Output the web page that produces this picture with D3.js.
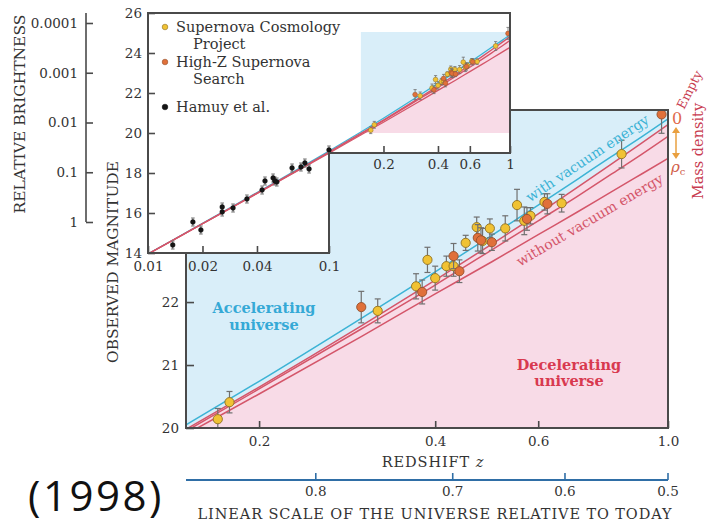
<!DOCTYPE html>
<html>
<head>
<meta charset="utf-8">
<script src="https://cdn.jsdelivr.net/npm/d3@7"></script>
<style>
  html, body { margin: 0; padding: 0; background: #fff; }
  svg { display: block; }
</style>
</head>
<body>
<svg id="chart" width="709" height="523"></svg>
<script>
// ---- Model curves: apparent magnitude versus redshift ----
const modelZ = [0.01, 0.015, 0.02, 0.03, 0.05, 0.07, 0.1, 0.15, 0.2, 0.3, 0.4, 0.5, 0.6, 0.7, 0.8, 0.9, 1.0];
const magVacuum     = [13.96, 14.85, 15.48, 16.38, 17.52, 18.28, 19.10, 20.05, 20.74, 21.75, 22.48, 23.06, 23.54, 23.95, 24.31, 24.62, 24.91];
const magEmpty      = [13.95, 14.84, 15.47, 16.36, 17.49, 18.24, 19.05, 19.98, 20.65, 21.63, 22.35, 22.92, 23.40, 23.82, 24.19, 24.52, 24.82];
const magLowDensity = [13.95, 14.83, 15.46, 16.35, 17.48, 18.23, 19.03, 19.95, 20.62, 21.58, 22.27, 22.83, 23.29, 23.68, 24.03, 24.34, 24.63];
const magCritical   = [13.95, 14.83, 15.46, 16.34, 17.46, 18.20, 18.99, 19.90, 20.54, 21.46, 22.13, 22.64, 23.07, 23.43, 23.75, 24.03, 24.28];

// ---- Supernova Cosmology Project ----
const scpZ   = [0.170, 0.178, 0.319, 0.371, 0.388, 0.400, 0.418, 0.430, 0.451, 0.471, 0.482, 0.496, 0.527, 0.552, 0.568, 0.582, 0.615, 0.658, 0.833];
const scpMag = [20.14, 20.41, 21.86, 22.25, 22.67, 22.38, 22.57, 22.57, 22.94, 23.19, 22.97, 23.17, 23.17, 23.54, 23.29, 23.37, 23.59, 23.57, 24.35];
const scpErr = [0.17, 0.17, 0.19, 0.20, 0.20, 0.19, 0.16, 0.16, 0.12, 0.16, 0.20, 0.15, 0.20, 0.25, 0.22, 0.13, 0.13, 0.14, 0.22];

// ---- High-Z Supernova Search ----
const hzZ   = [0.299, 0.380, 0.430, 0.440, 0.473, 0.479, 0.500, 0.574, 0.622, 0.975];
const hzMag = [21.92, 22.16, 22.73, 22.49, 23.02, 22.98, 22.95, 23.32, 23.56, 24.98];
const hzErr = [0.25, 0.19, 0.20, 0.18, 0.21, 0.20, 0.13, 0.18, 0.16, 0.30];

// ---- Hamuy et al. (nearby supernovae) ----
const hamuyZ   = [0.0137, 0.0177, 0.0196, 0.0257, 0.0257, 0.0295, 0.0352, 0.0427, 0.0443, 0.0491, 0.0502, 0.0515, 0.0625, 0.070, 0.0736, 0.0776, 0.100];
const hamuyMag = [14.40, 15.55, 15.15, 16.30, 16.05, 16.25, 16.70, 17.15, 17.60, 17.75, 17.60, 17.55, 18.25, 18.30, 18.50, 18.20, 19.15];
const hamuyErr = [0.2, 0.2, 0.2, 0.2, 0.2, 0.2, 0.2, 0.2, 0.2, 0.2, 0.2, 0.2, 0.2, 0.2, 0.2, 0.2, 0.2];

// ---- Axis ticks ----
const mainZTicks = [0.2, 0.4, 0.6, 1.0];
const mainMagTicks = [20, 21, 22];
const insetZTicksLow = [0.01, 0.02, 0.04, 0.1];
const insetZTicksHigh = [0.2, 0.4, 0.6, 1];
const insetMagTicks = [14, 16, 18, 20, 22, 24, 26];
const brightnessTicks = [0.0001, 0.001, 0.01, 0.1, 1];
const brightnessLabels = ["0.0001", "0.001", "0.01", "0.1", "1"];
const scaleFactorTicks = [0.8, 0.7, 0.6, 0.5];

// ---- Ranges of the two panels ----
const mainZDomain = [0.15, 1];
const mainMagDomain = [20, 25.05];
const insetZDomain = [0.01, 1];
const insetMagDomain = [14, 26];
const insetCutZ = 0.1, insetCutMag = 19;

// ---- Styling ----
const serif = '"DejaVu Serif", "Liberation Serif", serif';
const C = {
  sky: "#d9eef9", pink: "#f8dbe7", frame: "#4a4a4a", text: "#333",
  cyan: "#3cb3d5", red: "#d4566a", errbar: "#707070",
  scp: "#f0c234", scpStroke: "#8f6f22", hz: "#e0703a", hzStroke: "#94502c",
  hamuy: "#151515", accel: "#35a9d6", decel: "#d8394f", axisBlue: "#2f6ea6"
};

const svg = d3.select("#chart");
const defs = svg.append("defs");

// ---- Scales ----
const xMain = d3.scaleLog().domain(mainZDomain).range([186, 668]);
const yMain = d3.scaleLinear().domain(mainMagDomain).range([428, 110]);
const xIn = d3.scaleLog().domain(insetZDomain).range([148, 510]);
const yIn = d3.scaleLinear().domain(insetMagDomain).range([253, 13]);
const yBright = d3.scaleLog().domain([1, 0.0001]).range([222, 23]);

const rows = m => modelZ.map((z, i) => ({ z, m: m[i] }));
function magAt(mArr, z) {
  const lz = Math.log10(z);
  for (let i = 0; i < modelZ.length - 1; i++) {
    const a = Math.log10(modelZ[i]), b = Math.log10(modelZ[i + 1]);
    if (lz >= a && lz <= b) return mArr[i] + (mArr[i + 1] - mArr[i]) * (lz - a) / (b - a);
  }
  return mArr[mArr.length - 1];
}

// clip regions
const mx0 = xMain(mainZDomain[0]), mx1 = xMain(mainZDomain[1]);
const my0 = yMain(mainMagDomain[1]), my1 = yMain(mainMagDomain[0]);
defs.append("clipPath").attr("id", "clipMain").append("rect")
  .attr("x", mx0).attr("y", my0).attr("width", mx1 - mx0).attr("height", my1 - my0);

const insetPoly = [
  [xIn(insetZDomain[0]), yIn(insetMagDomain[1])],
  [xIn(insetZDomain[1]), yIn(insetMagDomain[1])],
  [xIn(insetZDomain[1]), yIn(insetCutMag)],
  [xIn(insetCutZ), yIn(insetCutMag)],
  [xIn(insetCutZ), yIn(insetMagDomain[0])],
  [xIn(insetZDomain[0]), yIn(insetMagDomain[0])]
];
defs.append("clipPath").attr("id", "clipInset").append("polygon")
  .attr("points", insetPoly.map(p => p.join(",")).join(" "));

const bx0 = xIn(mainZDomain[0]), bx1 = xIn(mainZDomain[1]);
const by0 = yIn(mainMagDomain[1]), by1 = yIn(mainMagDomain[0]);
defs.append("clipPath").attr("id", "clipInsetBox").append("rect")
  .attr("x", bx0).attr("y", by0).attr("width", bx1 - bx0).attr("height", by1 - by0);

// ---- Shared drawing helpers ----
function drawCurves(g, x, y, width) {
  const line = d3.line().x(d => x(d.z)).y(d => y(d.m)).curve(d3.curveMonotoneX);
  g.append("path").attr("d", line(rows(magVacuum))).attr("fill", "none").attr("stroke", C.cyan).attr("stroke-width", width);
  [magEmpty, magLowDensity, magCritical].forEach(m => {
    g.append("path").attr("d", line(rows(m))).attr("fill", "none").attr("stroke", C.red).attr("stroke-width", width);
  });
}
function drawPink(g, x, y, floorMag) {
  const area = d3.area().x(d => x(d.z)).y0(y(floorMag)).y1(d => y(d.m)).curve(d3.curveMonotoneX);
  g.append("path").attr("d", area(rows(magEmpty))).attr("fill", C.pink);
}
function drawPoints(g, x, y, zs, ms, es, fill, stroke, r, cap, barW) {
  const pts = zs.map((z, i) => ({ z, m: ms[i], e: es[i] }));
  const eb = g.append("g").attr("stroke", C.errbar).attr("stroke-width", barW);
  pts.forEach(d => {
    const cx = x(d.z), t = y(d.m + d.e), b = y(d.m - d.e);
    eb.append("line").attr("x1", cx).attr("x2", cx).attr("y1", t).attr("y2", b);
    eb.append("line").attr("x1", cx - cap).attr("x2", cx + cap).attr("y1", t).attr("y2", t);
    eb.append("line").attr("x1", cx - cap).attr("x2", cx + cap).attr("y1", b).attr("y2", b);
  });
  g.append("g").selectAll("circle").data(pts).join("circle")
    .attr("cx", d => x(d.z)).attr("cy", d => y(d.m)).attr("r", r)
    .attr("fill", fill).attr("stroke", stroke).attr("stroke-width", r > 3 ? 0.9 : 0.5);
}
function styleAxis(g, size) {
  g.select(".domain").remove();
  g.selectAll(".tick line").attr("stroke", C.frame).attr("stroke-width", 1.6);
  g.selectAll(".tick text").attr("font-family", serif).attr("font-size", size).attr("fill", C.text);
}

// ================= Main panel =================
const main = svg.append("g");
main.append("rect").attr("x", mx0).attr("y", my0).attr("width", mx1 - mx0).attr("height", my1 - my0).attr("fill", C.sky);
const mainClip = main.append("g").attr("clip-path", "url(#clipMain)");
drawPink(mainClip, xMain, yMain, 18);
drawCurves(mainClip, xMain, yMain, 1.5);
drawPoints(mainClip, xMain, yMain, scpZ, scpMag, scpErr, C.scp, C.scpStroke, 4.6, 3, 1.2);
drawPoints(mainClip, xMain, yMain, hzZ, hzMag, hzErr, C.hz, C.hzStroke, 4.6, 3, 1.2);

// region names
main.append("text").attr("x", 264).attr("y", 313).attr("text-anchor", "middle")
  .attr("font-family", serif).attr("font-weight", "bold").attr("font-size", 14.5).attr("fill", C.accel)
  .selectAll("tspan").data(["Accelerating", "universe"]).join("tspan")
  .attr("x", 264).attr("dy", (d, i) => i ? 17 : 0).text(d => d);
main.append("text").attr("x", 569).attr("y", 370).attr("text-anchor", "middle")
  .attr("font-family", serif).attr("font-weight", "bold").attr("font-size", 14.5).attr("fill", C.decel)
  .selectAll("tspan").data(["Decelerating", "universe"]).join("tspan")
  .attr("x", 569).attr("dy", (d, i) => i ? 16 : 0).text(d => d);

// curve labels laid along the lines
function labelAlong(mArr, xc, offset, txt, color, size) {
  const zc = xMain.invert(xc);
  const yc = yMain(magAt(mArr, zc));
  const y1 = yMain(magAt(mArr, xMain.invert(xc - 15))), y2 = yMain(magAt(mArr, xMain.invert(xc + 15)));
  const ang = Math.atan2(y2 - y1, 30);
  const px = xc + offset * Math.sin(ang), py = yc - offset * Math.cos(ang);
  main.append("text").attr("transform", `translate(${px},${py}) rotate(${ang * 180 / Math.PI})`)
    .attr("text-anchor", "middle").attr("dy", "0.35em")
    .attr("font-family", serif).attr("font-size", size).attr("fill", color).text(txt);
}
labelAlong(magVacuum, 594, 12, "with vacuum energy", C.cyan, 14);
labelAlong(magCritical, 583, -13, "without vacuum energy", C.red, 14);

// frame
main.append("rect").attr("x", mx0).attr("y", my0).attr("width", mx1 - mx0).attr("height", my1 - my0)
  .attr("fill", "none").attr("stroke", C.frame).attr("stroke-width", 2);

// axes of the main panel
main.append("g").attr("transform", `translate(0,${my1})`)
  .call(d3.axisBottom(xMain).tickValues(mainZTicks).tickFormat(d3.format(".1f")).tickSize(-7).tickPadding(8))
  .call(g => styleAxis(g, 13.5));
main.append("g").attr("transform", `translate(${mx0},0)`)
  .call(d3.axisLeft(yMain).tickValues(mainMagTicks).tickFormat(d3.format("d")).tickSize(-8).tickPadding(7))
  .call(g => styleAxis(g, 13.5));

main.append("text").attr("x", 433).attr("y", 467).attr("text-anchor", "middle")
  .attr("font-family", serif).attr("font-size", 14.5).attr("letter-spacing", 0.9).attr("fill", C.text)
  .call(t => { t.append("tspan").text("REDSHIFT "); t.append("tspan").attr("font-style", "italic").text("z"); });

// scale-factor axis
const sf = svg.append("g");
const sfY = 480;
sf.append("line").attr("x1", mx0).attr("x2", mx1).attr("y1", sfY).attr("y2", sfY)
  .attr("stroke", C.axisBlue).attr("stroke-width", 2);
scaleFactorTicks.forEach(a => {
  const x = xMain(1 / a - 1);
  sf.append("line").attr("x1", x).attr("x2", x).attr("y1", sfY).attr("y2", sfY - 7)
    .attr("stroke", C.axisBlue).attr("stroke-width", 1.6);
  sf.append("text").attr("x", x).attr("y", sfY + 16).attr("text-anchor", "middle")
    .attr("font-family", serif).attr("font-size", 13.5).attr("fill", C.text).text(d3.format(".1f")(a));
});
sf.append("text").attr("x", 435).attr("y", 519).attr("text-anchor", "middle")
  .attr("font-family", serif).attr("font-size", 14.5).attr("letter-spacing", 0.9).attr("fill", C.text)
  .text("LINEAR SCALE OF THE UNIVERSE RELATIVE TO TODAY");

// density annotation at the right edge
const ann = svg.append("g");
ann.append("text").attr("x", 677).attr("y", 124).attr("text-anchor", "middle")
  .attr("font-family", serif).attr("font-size", 16).attr("fill", "#e0684a").text("0");
ann.append("text").attr("transform", "translate(684,110) rotate(-63)")
  .attr("font-family", serif).attr("font-size", 12.5).attr("fill", "#c83c50").text("Empty");
ann.append("line").attr("x1", 676).attr("x2", 676).attr("y1", 131).attr("y2", 155)
  .attr("stroke", "#e9a040").attr("stroke-width", 1.5);
ann.append("path").attr("d", "M672,133 L676,127 L680,133 Z M672,153 L676,159 L680,153 Z").attr("fill", "#e9a040");
ann.append("text").attr("x", 671).attr("y", 172).attr("font-family", serif).attr("fill", "#d0604a")
  .call(t => {
    t.append("tspan").attr("font-style", "italic").attr("font-size", 15).text("ρ");
    t.append("tspan").attr("font-size", 10).attr("dy", 3).text("c");
  });
ann.append("text").attr("transform", "translate(698,151) rotate(-90)").attr("text-anchor", "middle")
  .attr("dy", "0.35em").attr("font-family", serif).attr("font-size", 14.5).attr("fill", "#c83c50").text("Mass density");

// ================= Inset panel =================
const inset = svg.append("g");
inset.append("polygon").attr("points", insetPoly.map(p => p.join(",")).join(" ")).attr("fill", "#fff");
inset.append("rect").attr("x", bx0).attr("y", by0).attr("width", bx1 - bx0).attr("height", by1 - by0).attr("fill", C.sky);
drawPink(inset.append("g").attr("clip-path", "url(#clipInsetBox)"), xIn, yIn, 18);
const insetClip = inset.append("g").attr("clip-path", "url(#clipInset)");
drawCurves(insetClip, xIn, yIn, 1.3);
drawPoints(insetClip, xIn, yIn, hamuyZ, hamuyMag, hamuyErr, C.hamuy, C.hamuy, 2.4, 1.8, 1);
drawPoints(insetClip, xIn, yIn, scpZ, scpMag, scpErr, C.scp, C.scpStroke, 2.4, 1.6, 0.8);
drawPoints(insetClip, xIn, yIn, hzZ, hzMag, hzErr, C.hz, C.hzStroke, 2.4, 1.6, 0.8);
inset.append("polygon").attr("points", insetPoly.map(p => p.join(",")).join(" "))
  .attr("fill", "none").attr("stroke", C.frame).attr("stroke-width", 2);

inset.append("g").attr("transform", `translate(${xIn(insetZDomain[0])},0)`)
  .call(d3.axisLeft(yIn).tickValues(insetMagTicks).tickFormat(d3.format("d")).tickSize(-7).tickPadding(6))
  .call(g => styleAxis(g, 13.5));
inset.append("g").attr("transform", `translate(0,${yIn(insetMagDomain[0])})`)
  .call(d3.axisBottom(xIn).tickValues(insetZTicksLow).tickFormat(d => String(d)).tickSize(-7).tickPadding(8))
  .call(g => styleAxis(g, 13.5));
inset.append("g").attr("transform", `translate(0,${yIn(insetCutMag)})`)
  .call(d3.axisBottom(xIn).tickValues(insetZTicksHigh).tickFormat(d => String(d)).tickSize(-7).tickPadding(6))
  .call(g => styleAxis(g, 13.5));

// legend
const legendItems = [
  { lines: ["Supernova Cosmology", "Project"], fill: C.scp, stroke: C.scpStroke, y: 27 },
  { lines: ["High-Z Supernova", "Search"], fill: C.hz, stroke: C.hzStroke, y: 62 },
  { lines: ["Hamuy et al."], fill: C.hamuy, stroke: C.hamuy, y: 107 }
];
const legend = inset.append("g");
legendItems.forEach(it => {
  legend.append("circle").attr("cx", 165).attr("cy", it.y).attr("r", 2.8)
    .attr("fill", it.fill).attr("stroke", it.stroke).attr("stroke-width", 0.6);
  const t = legend.append("text").attr("font-family", serif).attr("font-size", 14.5).attr("fill", C.text);
  it.lines.forEach((s, i) => {
    t.append("tspan").attr("x", i ? 193 : 176).attr("y", it.y + 5 + i * 17).text(s);
  });
});

// ================= Brightness axis and titles =================
const bright = svg.append("g").attr("transform", "translate(86,0)");
bright.append("line").attr("x1", 0).attr("x2", 0).attr("y1", 13).attr("y2", yBright(1))
  .attr("stroke", C.frame).attr("stroke-width", 1.6);
bright.call(d3.axisLeft(yBright).tickValues(brightnessTicks)
    .tickFormat((d, i) => brightnessLabels[i]).tickSize(-7).tickPadding(8))
  .call(g => styleAxis(g, 13.5));

svg.append("text").attr("transform", "translate(20,114) rotate(-90)").attr("text-anchor", "middle")
  .attr("dy", "0.35em").attr("font-family", serif).attr("font-size", 15.5).attr("fill", C.text)
  .text("RELATIVE BRIGHTNESS");
svg.append("text").attr("transform", "translate(113,262) rotate(-90)").attr("text-anchor", "middle")
  .attr("dy", "0.35em").attr("font-family", serif).attr("font-size", 15.4).attr("fill", C.text)
  .text("OBSERVED MAGNITUDE");

svg.append("text").attr("x", 28).attr("y", 511)
  .attr("font-family", '"Open Sans", "Liberation Sans", sans-serif').attr("font-size", 42)
  .attr("letter-spacing", 2.5).attr("fill", "#111")
  .text("(1998)");
</script>
</body>
</html>
